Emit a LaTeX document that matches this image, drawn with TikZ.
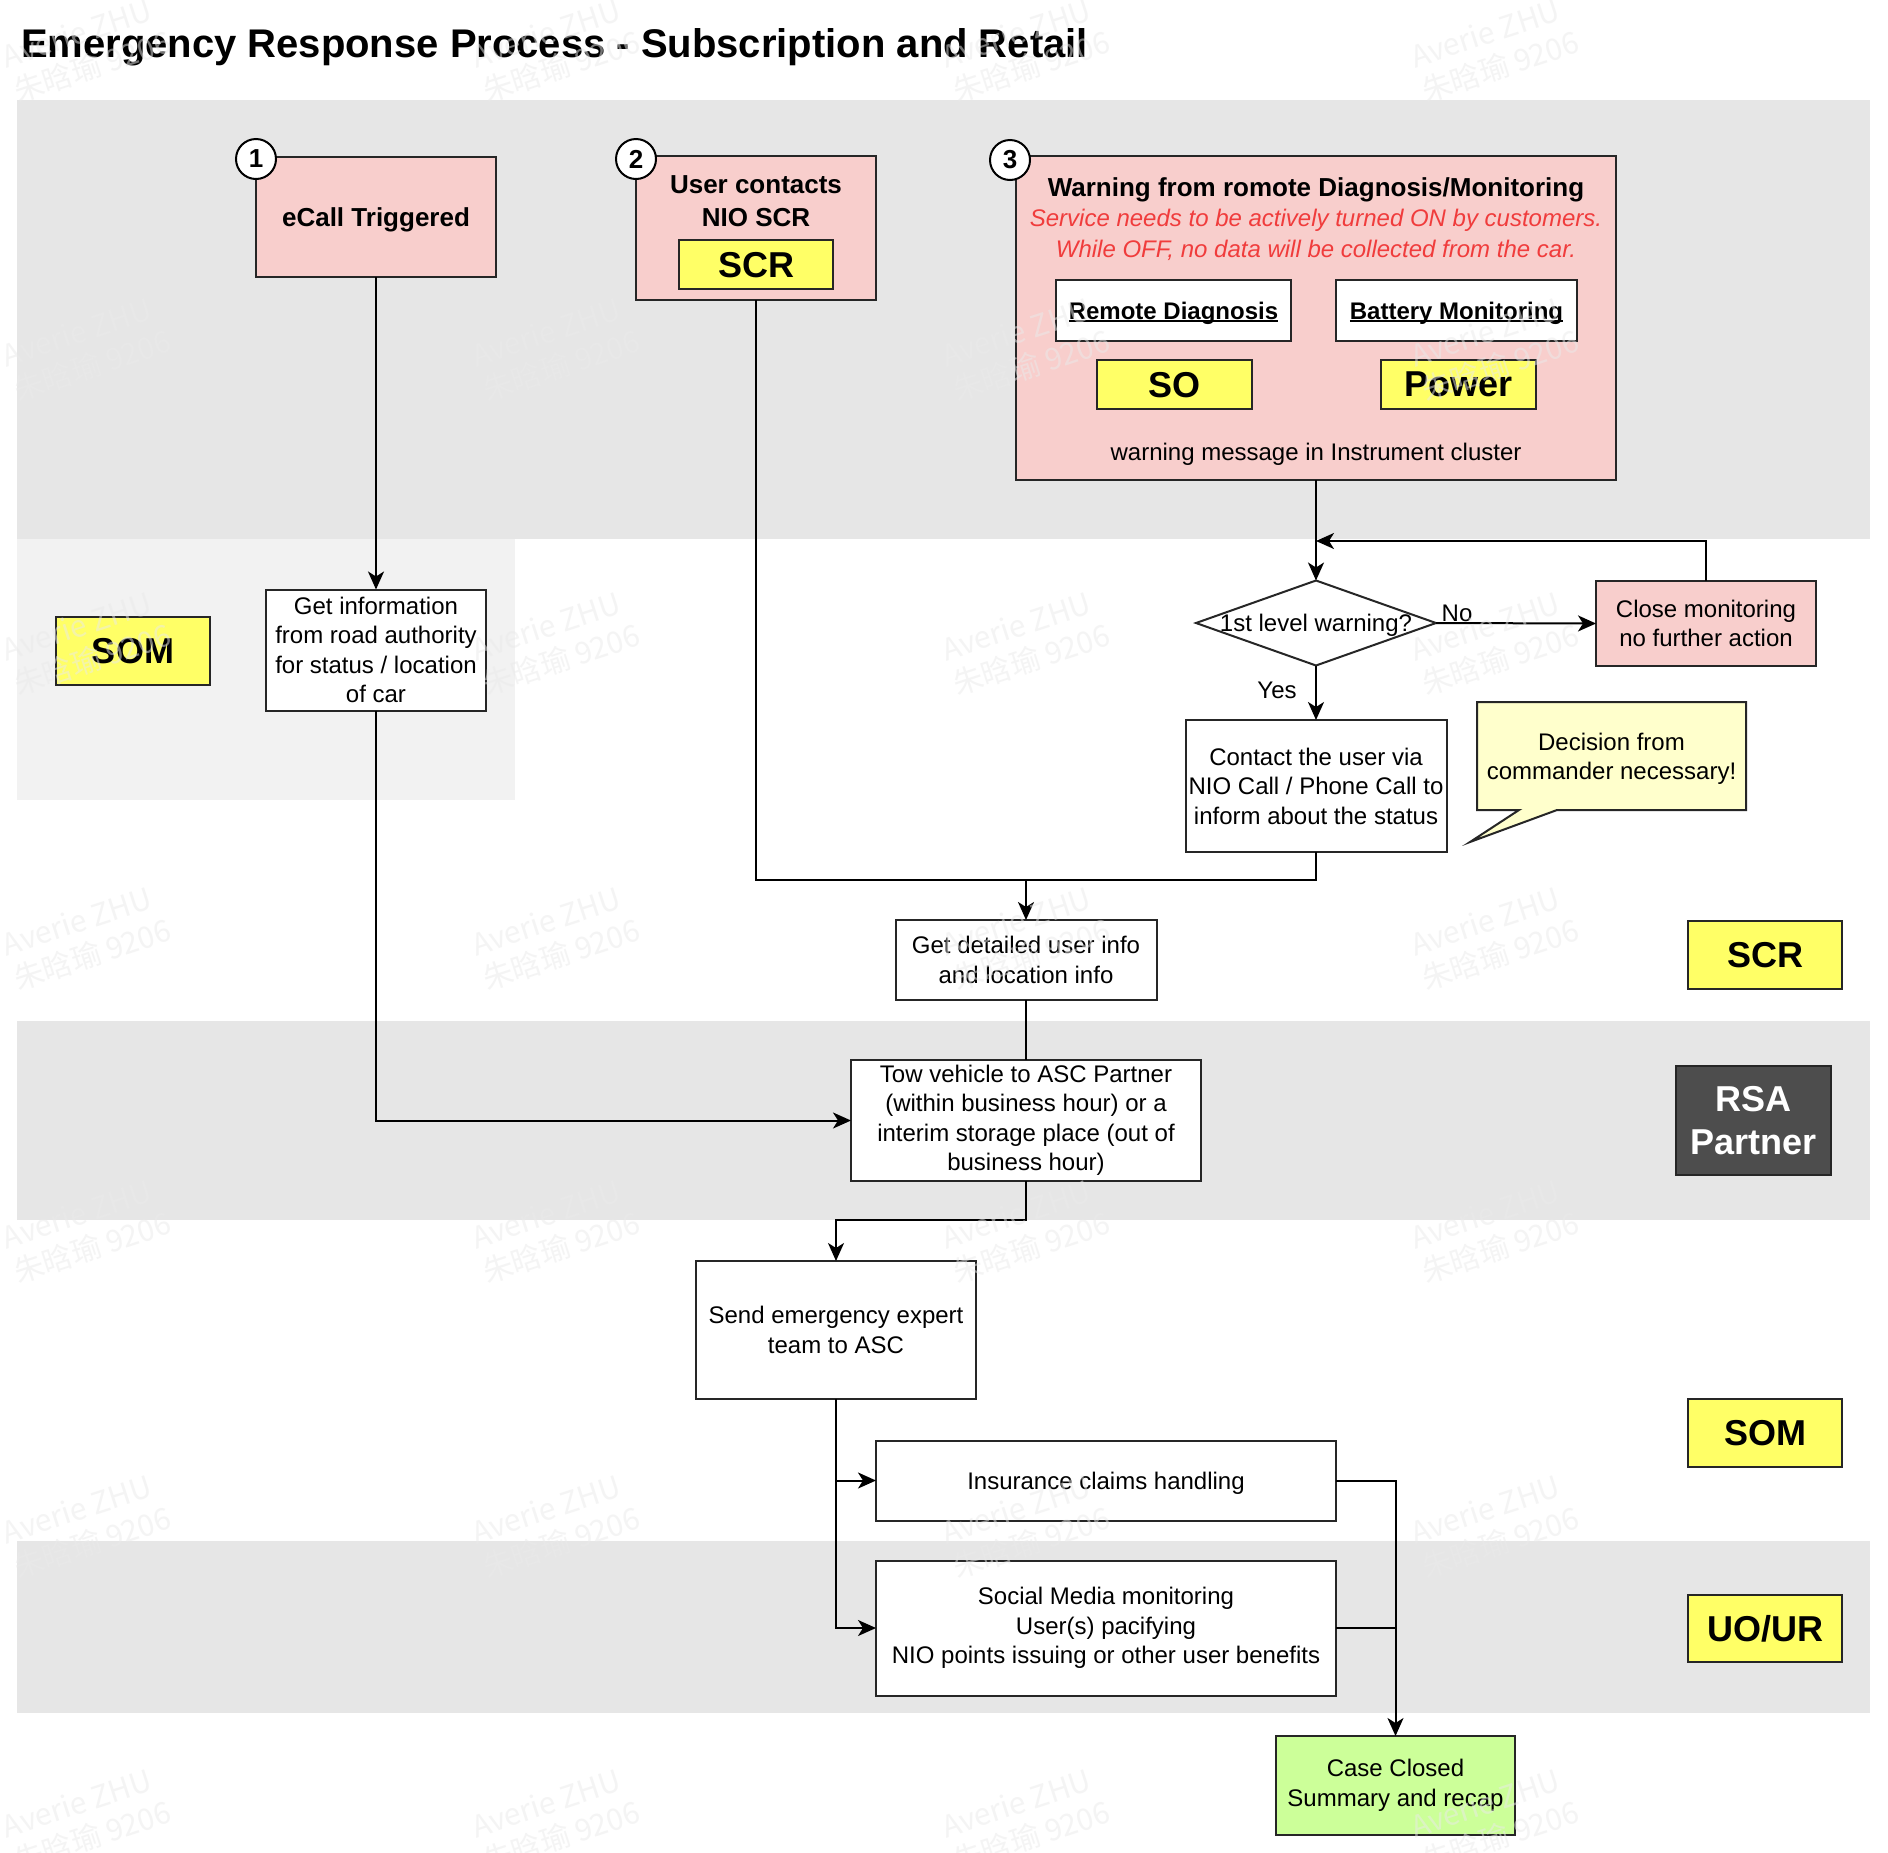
\documentclass[tikz,border=0pt]{standalone}
\usepackage{fontspec}
\setmainfont{Liberation Sans}
\newfontfamily\cjkwm{Noto Sans CJK SC}
\usetikzlibrary{shapes.geometric,arrows.meta}
\definecolor{bandgray}{HTML}{E6E6E6}
\definecolor{bandlight}{HTML}{F2F2F2}
\definecolor{pinkfill}{HTML}{F8CECC}
\definecolor{tagyellow}{HTML}{FFFF66}
\definecolor{noteyellow}{HTML}{FFFFCC}
\definecolor{greenfill}{HTML}{CCFF99}
\definecolor{darkfill}{HTML}{4D4D4D}
\definecolor{strokecol}{HTML}{262626}
\definecolor{redtext}{HTML}{F03C3C}
\definecolor{wmcol}{HTML}{EAEAEA}
\newcommand\myfs[2]{\fontsize{#1}{#2}\selectfont}
\newcommand\myul[1]{\sbox0{#1}\rlap{\rule[-3pt]{\wd0}{1.8pt}}\usebox0}
\begin{document}
\begin{tikzpicture}[x=1pt,y=-1pt,
  every node/.style={inner sep=0pt, outer sep=0pt},
  box/.style={draw=strokecol, line width=2pt, fill=white, align=center, font=\myfs{24}{29.5}},
  pinkbox/.style={box, fill=pinkfill},
  oneline/.style={text depth=0pt},
  tagbox/.style={draw=strokecol, line width=2pt, fill=tagyellow, align=center, font=\bfseries\myfs{36}{43}},
  numc/.style={circle, draw=black, line width=2pt, fill=white, minimum size=40pt, font=\bfseries\myfs{26}{30}},
  conn/.style={line width=2pt, draw=black},
  arr/.style={conn, -{Stealth[length=18pt,width=16pt,inset=5pt]}},
  lbl/.style={font=\myfs{24}{29.5}},
  wm/.style={rotate=18, align=left, text=wmcol, opacity=0.5, font=\cjkwm\myfs{30}{36}}
]
\useasboundingbox (0,0) rectangle (1888,1853);
\fill[white] (0,0) rectangle (1888,1853);

% bands
\fill[bandgray] (17,100) rectangle (1870,539);
\fill[bandlight] (17,539) rectangle (515,800);
\fill[bandgray] (17,1021) rectangle (1870,1220);
\fill[bandgray] (17,1541) rectangle (1870,1713);

% title
\node[anchor=base west, font=\bfseries\myfs{40}{44}] (title) at (21,57) {Emergency Response Process - Subscription and Retail};

% box 1
\node[pinkbox, oneline, minimum width=240, minimum height=120, font=\bfseries\myfs{26}{31}] (ecall) at (376,217) {eCall Triggered};
\node[numc] (n1) at (256,159) {1};

% box 2
\node[pinkbox, minimum width=240, minimum height=144] (user) at (756,228) {};
\node[font=\bfseries\myfs{26}{33}, align=center] (usertxt) at (756,201.5) {User contacts\\NIO SCR};
\node[tagbox, oneline, minimum width=154, minimum height=49] (scrtag) at (756,264.5) {SCR};
\node[numc] (n2) at (636,159) {2};

% box 3
\node[pinkbox, minimum width=600, minimum height=324] (warn) at (1316,318) {};
\node[anchor=base, font=\bfseries\myfs{26}{31}] (warntitle) at (1316,196.4) {Warning from romote Diagnosis/Monitoring};
\node[anchor=base, font=\itshape\myfs{24}{29}, text=redtext] (warnnoteA) at (1316,226.6) {Service needs to be actively turned ON by customers.};
\node[anchor=base, font=\itshape\myfs{24}{29}, text=redtext] (warnnoteB) at (1316,257.6) {While OFF, no data will be collected from the car.};
\node[box, oneline, minimum width=235, minimum height=61, font=\bfseries\myfs{24}{29}] (rdiag) at (1173.5,310.5) {\myul{Remote Diagnosis}};
\node[box, oneline, minimum width=241, minimum height=61, font=\bfseries\myfs{24}{29}] (bmon) at (1456.5,310.5) {\myul{Battery Monitoring}};
\node[tagbox, oneline, minimum width=155, minimum height=49] (sotag) at (1174.5,384.5) {SO};
\node[tagbox, oneline, minimum width=155, minimum height=49] (powertag) at (1458.5,384.5) {Power};
\node[lbl, anchor=base] (warnmsg) at (1316,460) {warning message in Instrument cluster};
\node[numc] (n3) at (1010,160) {3};

% SOM lane label and get info
\node[tagbox, oneline, minimum width=154, minimum height=68] (somleft) at (133,650.5) {SOM};
\node[box, minimum width=220, minimum height=121] (getinfo) at (376,650) {Get information\\from road authority\\for status / location\\of car};

% decision
\node[diamond, draw=strokecol, line width=2pt, fill=white, minimum width=240, minimum height=85] (dia) at (1316,623) {};
\node[lbl, anchor=base] (diatxt) at (1316,631.6) {1st level warning?};
\node[pinkbox, minimum width=220, minimum height=85] (close) at (1706,623.5) {Close monitoring\\no further action};
\node[lbl, anchor=base] (nolbl) at (1457,621.6) {No};
\node[lbl, anchor=base] (yeslbl) at (1277,698.6) {Yes};
\node[box, minimum width=261, minimum height=132] (contact) at (1316,786) {Contact the user via\\NIO Call / Phone Call to\\inform about the status};

% callout
\draw[draw=strokecol, line width=2pt, fill=noteyellow] (1477,702) -- (1746,702) -- (1746,810) -- (1557,810) -- (1470,842) -- (1519,810) -- (1477,810) -- cycle;
\node[lbl, align=center] (note) at (1611.5,759) {Decision from\\commander necessary!};

% lower flow
\node[box, minimum width=261, minimum height=80] (detail) at (1026,960) {Get detailed user info\\and location info};
\node[box, minimum width=350, minimum height=121] (tow) at (1026,1120.5) {Tow vehicle to ASC Partner\\(within business hour) or a\\interim storage place (out of\\business hour)};
\node[box, minimum width=280, minimum height=138] (send) at (836,1330) {Send emergency expert\\team to ASC};
\node[box, oneline, minimum width=460, minimum height=80] (ins) at (1106,1480.5) {Insurance claims handling};
\node[box, minimum width=460, minimum height=135] (social) at (1106,1628) {Social Media monitoring\\User(s) pacifying\\NIO points issuing or other user benefits};
\node[box, fill=greenfill, minimum width=239, minimum height=99] (case) at (1395.5,1785.5) {Case Closed\\Summary and recap};

% right lane labels
\node[tagbox, oneline, minimum width=154, minimum height=68] (scrright) at (1765,955) {SCR};
\node[tagbox, fill=darkfill, text=white, minimum width=155, minimum height=109] (rsa) at (1753.5,1120.5) {RSA\\Partner};
\node[tagbox, oneline, minimum width=154, minimum height=68] (somright) at (1765,1433) {SOM};
\node[tagbox, oneline, minimum width=154, minimum height=67] (uour) at (1765,1628.5) {UO/UR};

% connectors
\coordinate (j1) at (1026,880);
\coordinate (fb) at (1316,541);
\coordinate (j2) at (836,1220);
\draw[arr] (ecall.south) -- (getinfo.north);
\draw[arr] (getinfo.south) |- (tow.west);
\draw[conn] (user.south) |- (j1);
\draw[conn] (contact.south) |- (j1);
\draw[arr] (j1) -- (detail.north);
\draw[arr] (warn.south) -- (dia.north);
\draw[arr] (close.north) |- (fb);
\draw[arr] (dia.east) -- (close.west);
\draw[arr] (dia.south) -- (contact.north);
\draw[conn] (detail.south) -- (tow.north);
\draw[arr] (tow.south) |- (j2) -- (send.north);
\draw[arr] (send.south) |- (ins.west);
\draw[arr] (send.south) |- (social.west);
\draw[arr] (ins.east) -| (case.north);
\draw[conn] (social.east) -- (social.east -| case.north);

% watermark
\foreach \wx in {87,556,1026,1495} {
  \foreach \wy in {50,349,643,938,1231,1526,1820} {
    \node[wm] (wm-\wx-\wy) at (\wx,\wy) {Averie ZHU\\朱晗瑜 9206};
  }
}
\end{tikzpicture}
\end{document}
